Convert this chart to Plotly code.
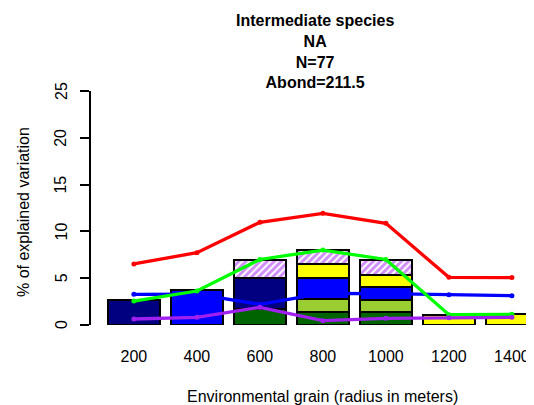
import plotly.graph_objects as go

grain_labels = ["200", "400", "600", "800", "1000", "1200", "1400"]

# stacked bar components (% of explained variation)
seg_darkgreen = [None, None, 1.7, 1.35, 1.43, None, None]
seg_yellowgreen = [None, None, None, 1.43, 1.28, None, None]
seg_navy = [2.67, None, 3.3, None, None, None, None]
seg_blue = [None, 3.74, None, 2.21, 1.38, None, None]
seg_yellow = [None, None, None, 1.49, 1.25, 1.1, 1.2]
seg_hatch = [None, None, 1.95, 1.53, 1.6, None, None]

# lines
line_red = [6.52, 7.73, 10.97, 11.93, 10.86, 5.09, 5.07]
line_blue = [3.28, 3.3, 2.2, 3.38, 3.35, 3.22, 3.13]
line_green = [2.56, 3.63, 7.0, 8.0, 7.0, 1.1, 1.14]
line_purple = [0.64, 0.82, 1.89, 0.46, 0.71, 0.78, 0.82]

y_ticks = [0, 5, 10, 15, 20, 25]

xpos = list(range(len(grain_labels)))
OFF = 8  # page body margin
W, H = 534 - OFF, 405 - OFF
FONT = "Liberation Sans, Arial, sans-serif"

def px(v):
    return v - OFF

fig = go.Figure()

def add_seg(vals, color, pattern=None):
    marker = dict(color=color, line=dict(color="black", width=2))
    if pattern:
        marker["pattern"] = pattern
    fig.add_trace(go.Bar(x=xpos, y=vals, width=1 / 1.2, marker=marker,
                         showlegend=False, hoverinfo="skip"))

add_seg(seg_darkgreen, "#006400")
add_seg(seg_yellowgreen, "#9ACD32")
add_seg(seg_navy, "#000080")
add_seg(seg_blue, "#0000FF")
add_seg(seg_yellow, "#FFFF00")
add_seg(seg_hatch, "white", dict(shape="/", fgcolor="#A020F0", bgcolor="white",
                                  size=5, solidity=0.6, fillmode="overlay"))

for vals, col in [(line_red, "#FF0000"), (line_blue, "#0000FF"),
                  (line_green, "#00FF00"), (line_purple, "#A020F0")]:
    fig.add_trace(go.Scatter(x=xpos, y=vals, mode="lines+markers",
                             line=dict(color=col, width=3.3),
                             marker=dict(color=col, size=5),
                             showlegend=False, hoverinfo="skip"))

left, top = px(91), px(91)
bottom = H - px(325)
right = 0
plot_w = W - left - right
plot_h = H - top - bottom
c0, step = px(133.9), 63.0
x0 = (left - c0) / step
x1 = (W - right - c0) / step

annotations = [
    dict(text="<b>Intermediate species<br>NA<br>N=77<br>Abond=211.5</b>",
         xref="paper", yref="paper", x=(px(315) - left) / plot_w, xanchor="center",
         y=1 + (top - px(10)) / plot_h, yanchor="top",
         showarrow=False, font=dict(size=16), align="center"),
    dict(text="Environmental grain (radius in meters)",
         xref="paper", yref="paper", x=(px(322) - left) / plot_w, xanchor="center",
         y=-(px(396) - px(325)) / plot_h, yanchor="middle",
         showarrow=False, font=dict(size=16)),
    dict(text="% of explained variation", textangle=-90,
         xref="paper", yref="paper", x=-(left - px(23)) / plot_w, xanchor="center",
         y=1 - (px(212) - top) / plot_h, yanchor="middle",
         showarrow=False, font=dict(size=16)),
]
# y tick labels (rotated, as in R's default las=0)
for v in y_ticks:
    annotations.append(dict(text=str(v), textangle=-90, xref="paper", yref="y",
                            x=-(left - px(61)) / plot_w, y=v, xanchor="center",
                            yanchor="middle", showarrow=False, font=dict(size=16)))

fig.update_layout(
    width=W, height=H,
    margin=dict(l=left, r=right, t=top, b=bottom, pad=0),
    paper_bgcolor="white", plot_bgcolor="white",
    barmode="stack", bargap=0,
    font=dict(family=FONT, size=16, color="black"),
    xaxis=dict(range=[x0, x1], tickmode="array", tickvals=xpos, ticktext=grain_labels,
               showline=False, showgrid=False, zeroline=False, ticks="",
               ticklabelstandoff=20, tickfont=dict(size=16)),
    yaxis=dict(range=[0, 25], tickmode="array", tickvals=y_ticks,
               showticklabels=False,
               showline=True, linecolor="black", linewidth=1.5,
               ticks="outside", ticklen=9, tickwidth=1.5, tickcolor="black",
               showgrid=False, zeroline=False),
    annotations=annotations,
)

fig.write_html("out.html")
